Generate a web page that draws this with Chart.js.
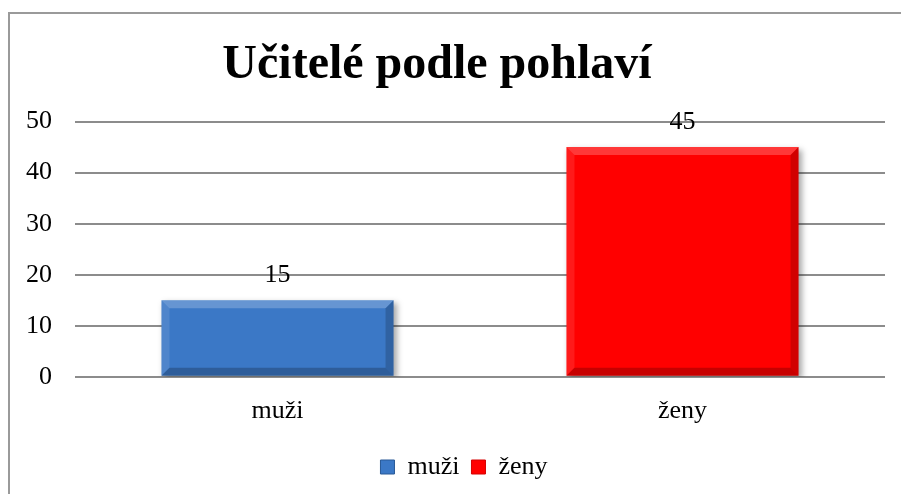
<!DOCTYPE html>
<html>
<head>
<meta charset="utf-8">
<script src="https://cdn.jsdelivr.net/npm/chart.js@4.4.0/dist/chart.umd.min.js"></script>
<style>
  html, body { margin: 0; padding: 0; background: #fff; overflow: hidden; }
  #wrap { position: relative; width: 901px; height: 494px; }
  #frame { position: absolute; left: 8px; top: 12px; width: 1000px; height: 1000px;
           border-left: 2px solid #9a9a9a; border-top: 2px solid #9a9a9a; }
  canvas { position: absolute; left: 0; top: 0; }
</style>
</head>
<body>
<div id="wrap">
  <div id="frame"></div>
  <canvas id="chart" width="901" height="494"></canvas>
</div>
<script>
const categories = ['muži', 'ženy'];
const seriesNames = ['muži', 'ženy'];
const values = [15, 45];
const yTicks = [0, 10, 20, 30, 40, 50];

// colours: [top light, middle, bottom dark]
const palettes = [
  ['#78b0e8', '#3b78c6', '#285896'],
  ['#ff3a3a', '#ff0000', '#d40000']
];

const serif = '"Liberation Serif", "Times New Roman", serif';

function barFill(ctx) {
  const chart = ctx.chart;
  const el = chart.getDatasetMeta(ctx.datasetIndex).data[ctx.dataIndex];
  const p = palettes[ctx.datasetIndex];
  if (!el || el.y === undefined) return p[1];
  const g = chart.ctx.createLinearGradient(0, el.y, 0, el.base);
  g.addColorStop(0, p[0]);
  g.addColorStop(0.12, p[1]);
  g.addColorStop(0.88, p[1]);
  g.addColorStop(1, p[2]);
  return g;
}

// soft shadow behind the bars
const shadowPlugin = {
  id: 'barShadow',
  beforeDatasetDraw(chart) {
    const c = chart.ctx;
    c.save();
    c.shadowColor = 'rgba(0,0,0,0.35)';
    c.shadowBlur = 6;
    c.shadowOffsetX = 3;
    c.shadowOffsetY = 3;
  },
  afterDatasetDraw(chart) {
    chart.ctx.restore();
  }
};

// nudge title and legend to where the original has them
const nudgePlugin = {
  id: 'nudge',
  afterLayout(chart) {
    const t = chart.titleBlock, lg = chart.legend;
    if (t) { t.left -= 7; t.right -= 7; }
    if (lg) { lg.left += 20; lg.right += 20; lg.top -= 4; lg.bottom -= 4; }
  }
};

// bevel edges and value labels on top of each bar
const bevelPlugin = {
  id: 'bevel',
  afterDatasetsDraw(chart) {
    const c = chart.ctx;
    chart.data.datasets.forEach((ds, di) => {
      const meta = chart.getDatasetMeta(di);
      meta.data.forEach((el, i) => {
        if (ds.data[i] == null) return;
        const l = el.x - el.width / 2, r = el.x + el.width / 2;
        const t = el.y, b = el.base, s = 8;
        c.save();
        c.fillStyle = 'rgba(255,255,255,0.22)';
        c.beginPath(); c.moveTo(l, t); c.lineTo(r, t); c.lineTo(r - s, t + s); c.lineTo(l + s, t + s); c.closePath(); c.fill();
        c.fillStyle = 'rgba(255,255,255,0.10)';
        c.beginPath(); c.moveTo(l, t); c.lineTo(l + s, t + s); c.lineTo(l + s, b - s); c.lineTo(l, b); c.closePath(); c.fill();
        c.fillStyle = 'rgba(0,0,0,0.18)';
        c.beginPath(); c.moveTo(r, t); c.lineTo(r, b); c.lineTo(r - s, b - s); c.lineTo(r - s, t + s); c.closePath(); c.fill();
        c.fillStyle = 'rgba(0,0,0,0.22)';
        c.beginPath(); c.moveTo(l, b); c.lineTo(r, b); c.lineTo(r - s, b - s); c.lineTo(l + s, b - s); c.closePath(); c.fill();
        c.fillStyle = '#000';
        c.font = '26px ' + serif;
        c.textAlign = 'center';
        c.textBaseline = 'middle';
        c.fillText(String(ds.data[i]), el.x, el.y - 25);
        c.restore();
      });
    });
  }
};

const datasets = seriesNames.map((name, si) => ({
  label: name,
  data: categories.map((c, ci) => (ci === si ? values[ci] : null)),
  backgroundColor: barFill,
  borderColor: palettes[si][2],
  borderWidth: 0,
  barPercentage: 0.573,
  categoryPercentage: 1.0,
  grouped: false
}));

new Chart(document.getElementById('chart').getContext('2d'), {
  type: 'bar',
  data: { labels: categories, datasets: datasets },
  options: {
    responsive: false,
    animation: false,
    layout: { padding: { left: 3, right: 16, top: 37, bottom: 0 } },
    plugins: {
      title: {
        display: true,
        text: 'Učitelé podle pohlaví',
        color: '#000',
        font: { family: serif, size: 48, weight: 'bold' },
        padding: { top: 0, bottom: 27 }
      },
      legend: {
        position: 'bottom',
        labels: {
          color: '#000',
          font: { family: serif, size: 26 },
          boxWidth: 14,
          boxHeight: 14,
          padding: 12,
          generateLabels(chart) {
            return seriesNames.map((n, i) => ({
              text: n,
              fillStyle: palettes[i][1],
              strokeStyle: palettes[i][2],
              lineWidth: 1,
              datasetIndex: i,
              hidden: false
            }));
          }
        }
      },
      tooltip: { enabled: false }
    },
    scales: {
      x: {
        grid: { display: false, drawTicks: false },
        border: { display: false },
        ticks: { color: '#000', font: { family: serif, size: 26 }, padding: 19 }
      },
      y: {
        min: 0,
        max: 50,
        afterBuildTicks(scale) { scale.ticks = yTicks.map(v => ({ value: v })); },
        grid: { color: '#8c8c8c', lineWidth: 2, drawTicks: false },
        border: { display: false },
        ticks: { color: '#000', font: { family: serif, size: 26 }, padding: 23 }
      }
    }
  },
  plugins: [shadowPlugin, nudgePlugin, bevelPlugin]
});
</script>
</body>
</html>
